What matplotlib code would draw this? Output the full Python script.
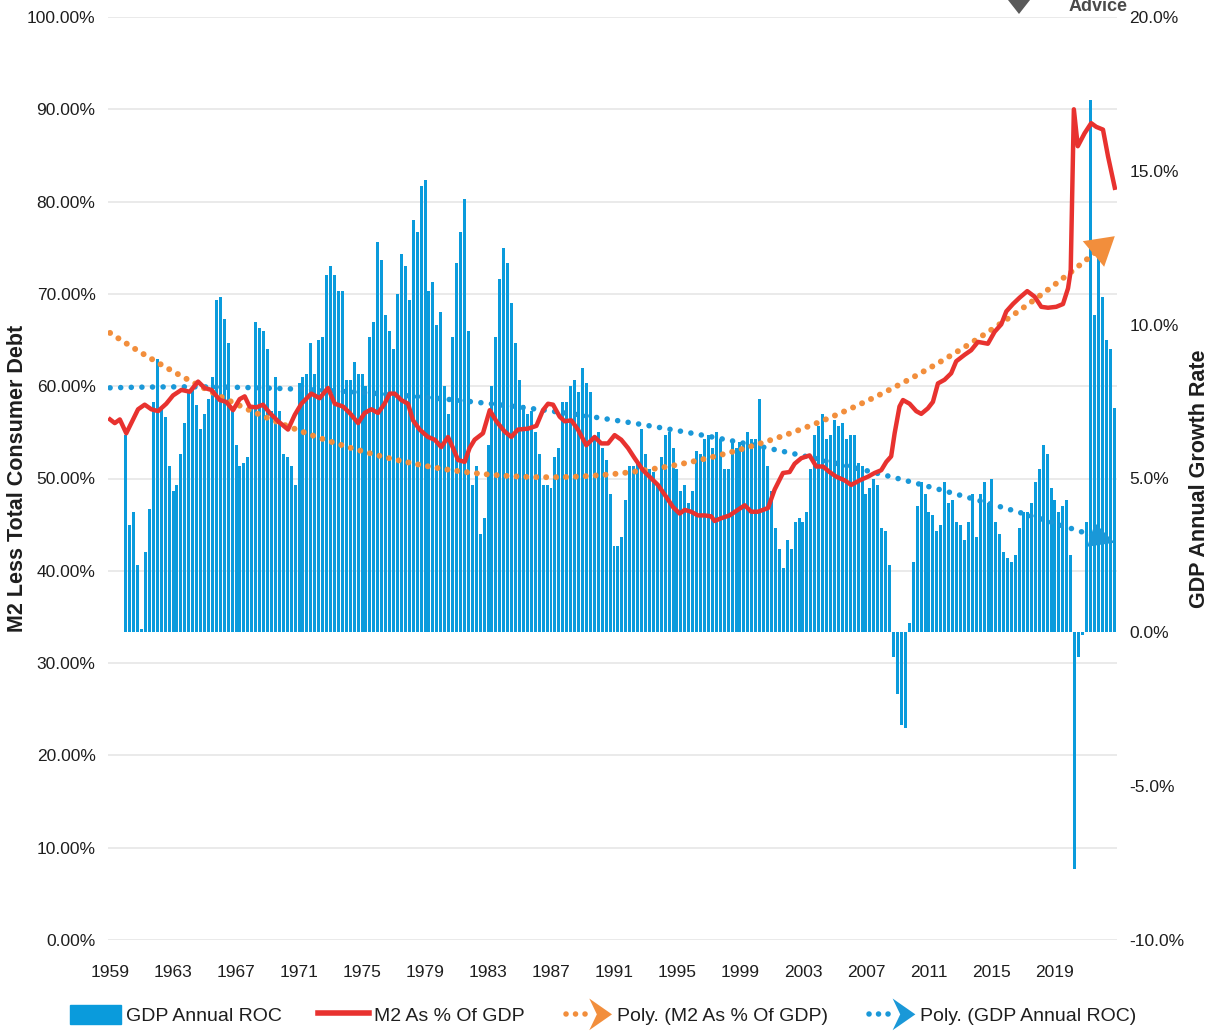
import numpy as np
import matplotlib
matplotlib.use("Agg")
import matplotlib.pyplot as plt
from matplotlib.lines import Line2D
from matplotlib.patches import Patch, Polygon
from matplotlib.legend_handler import HandlerBase
from matplotlib import font_manager

# --- DATA ---
# GDP annual rate of change, quarterly 1960Q1..2022Q4 (right axis, %)
gdp_roc = [
    6.4, 3.5, 3.9, 2.2,      # 1960
    0.1, 2.6, 4.0, 7.5,      # 1961
    8.9, 7.3, 7.0, 5.4,      # 1962
    4.6, 4.8, 5.8, 6.8,      # 1963
    7.8, 7.9, 7.4, 6.6,      # 1964
    7.1, 7.6, 8.3, 10.8,     # 1965
    10.9, 10.2, 9.4, 7.2,    # 1966
    6.1, 5.4, 5.5, 5.7,      # 1967
    7.4, 10.1, 9.9, 9.8,     # 1968
    9.2, 7.2, 8.3, 7.2,      # 1969
    5.8, 5.7, 5.4, 4.8,      # 1970
    8.1, 8.3, 8.4, 9.4,      # 1971
    8.4, 9.5, 9.6, 11.6,     # 1972
    11.9, 11.6, 11.1, 11.1,  # 1973
    8.2, 8.2, 8.8, 8.4,      # 1974
    8.4, 8.0, 9.6, 10.1,     # 1975
    12.7, 12.1, 10.3, 9.8,   # 1976
    9.2, 11.0, 12.3, 11.9,   # 1977
    10.8, 13.4, 13.0, 14.5,  # 1978
    14.7, 11.1, 11.4, 10.0,  # 1979
    10.4, 8.0, 7.1, 9.6,     # 1980
    12.0, 13.0, 14.1, 9.8,   # 1981
    4.8, 5.4, 3.2, 3.7,      # 1982
    6.1, 8.0, 9.6, 11.5,     # 1983
    12.5, 12.0, 10.7, 9.4,   # 1984
    8.2, 7.4, 7.1, 7.2,      # 1985
    6.5, 5.8, 4.8, 4.8,      # 1986
    4.7, 5.7, 6.0, 7.5,      # 1987
    7.5, 8.0, 8.2, 7.8,      # 1988
    8.6, 8.1, 7.8, 6.3,      # 1989
    6.5, 6.0, 5.6, 4.5,      # 1990
    2.8, 2.8, 3.1, 4.3,      # 1991
    5.4, 5.4, 5.5, 6.6,      # 1992
    5.8, 5.3, 5.2, 4.8,      # 1993
    5.7, 6.4, 6.5, 6.0,      # 1994
    5.3, 4.6, 4.8, 4.2,      # 1995
    4.6, 5.9, 5.8, 6.3,      # 1996
    6.4, 6.0, 6.5, 6.3,      # 1997
    5.3, 5.3, 6.3, 6.0,      # 1998
    6.2, 6.2, 6.5, 6.3,      # 1999
    6.3, 7.6, 6.1, 5.4,      # 2000
    4.6, 3.4, 2.7, 2.1,      # 2001
    3.0, 2.7, 3.6, 3.7,      # 2002
    3.6, 3.9, 5.3, 6.4,      # 2003
    6.7, 7.1, 6.3, 6.4,      # 2004
    6.9, 6.7, 6.8, 6.3,      # 2005
    6.4, 6.4, 5.5, 5.4,      # 2006
    4.5, 4.7, 5.0, 4.8,      # 2007
    3.4, 3.3, 2.2, -0.8,     # 2008
    -2.0, -3.0, -3.1, 0.3,   # 2009
    2.3, 4.1, 4.9, 4.5,      # 2010
    3.9, 3.8, 3.3, 3.5,      # 2011
    4.9, 4.2, 4.3, 3.6,      # 2012
    3.5, 3.0, 3.6, 4.5,      # 2013
    3.1, 4.5, 4.9, 4.2,      # 2014
    5.0, 3.6, 3.2, 2.6,      # 2015
    2.4, 2.3, 2.5, 3.4,      # 2016
    3.9, 3.9, 4.2, 4.9,      # 2017
    5.3, 6.1, 5.8, 4.7,      # 2018
    4.3, 3.9, 4.1, 4.3,      # 2019
    2.5, -7.7, -0.8, -0.1,   # 2020
    3.6, 17.3, 10.3, 12.2,   # 2021
    10.9, 9.5, 9.2, 7.3,     # 2022
]
gdp_start_year = 1960

# M2 less total consumer debt as % of GDP (left axis)
m2_years = [
    1959.00, 1959.30, 1959.62, 1960.03, 1960.35, 1960.78, 1961.20, 1961.62, 1962.05, 1962.57,
    1963.00, 1963.53, 1964.06, 1964.59, 1965.01, 1965.43, 1965.97, 1966.38, 1966.81, 1967.23,
    1967.55, 1967.86, 1968.29, 1968.71, 1969.14, 1969.67, 1970.30, 1970.73, 1971.15, 1971.78,
    1972.31, 1972.84, 1973.27, 1973.79, 1974.22, 1974.75, 1975.17, 1975.59, 1976.02, 1976.43,
    1976.76, 1977.07, 1977.49, 1977.92, 1978.24, 1978.66, 1979.19, 1979.62, 1980.03, 1980.46,
    1980.78, 1981.10, 1981.52, 1981.83, 1982.15, 1982.68, 1983.11, 1983.53, 1984.05, 1984.48,
    1984.90, 1985.54, 1986.07, 1986.49, 1986.81, 1987.13, 1987.55, 1987.87, 1988.29, 1988.71,
    1989.24, 1989.77, 1990.19, 1990.62, 1991.04, 1991.46, 1991.89, 1992.31, 1992.84, 1993.37,
    1993.79, 1994.32, 1994.75, 1995.17, 1995.49, 1995.90, 1996.33, 1996.76, 1997.17, 1997.39,
    1997.81, 1998.34, 1998.87, 1999.30, 1999.71, 2000.14, 2000.78, 2001.20, 2001.73, 2002.15,
    2002.47, 2002.89, 2003.42, 2003.84, 2004.27, 2004.69, 2005.11, 2005.65, 2006.06, 2006.60,
    2007.13, 2007.55, 2007.97, 2008.29, 2008.60, 2008.82, 2009.13, 2009.35, 2009.77, 2010.19,
    2010.51, 2010.93, 2011.25, 2011.57, 2011.99, 2012.41, 2012.73, 2013.26, 2013.68, 2014.11,
    2014.74, 2015.17, 2015.59, 2015.91, 2016.33, 2016.76, 2017.24, 2017.71, 2018.13, 2018.56,
    2019.08, 2019.51, 2019.83, 2020.00, 2020.20, 2020.45, 2020.88, 2021.30, 2021.62, 2022.05,
    2022.37, 2022.80,
]
m2_pct = [
    56.4, 56.0, 56.4, 54.9, 56.0, 57.5, 58.0, 57.5, 57.3, 58.1,
    59.0, 59.6, 59.4, 60.5, 59.8, 59.6, 58.5, 58.3, 57.4, 58.6,
    58.9, 57.8, 57.7, 58.0, 57.1, 56.2, 55.3, 56.9, 58.1, 59.2,
    58.7, 59.8, 58.1, 57.8, 57.1, 56.0, 57.1, 57.5, 57.1, 58.1,
    59.2, 59.2, 58.5, 58.1, 56.3, 55.3, 54.5, 54.2, 53.4, 54.5,
    53.3, 52.0, 51.8, 53.3, 54.2, 54.9, 57.4, 56.2, 55.1, 54.5,
    55.3, 55.4, 55.7, 57.4, 58.1, 58.0, 56.7, 56.2, 56.3, 55.3,
    53.6, 54.5, 53.8, 53.8, 54.7, 54.2, 53.3, 52.2, 50.9, 50.0,
    49.3, 48.0, 46.9, 46.2, 46.6, 46.4, 46.0, 46.0, 45.9, 45.4,
    45.7, 46.0, 46.6, 47.1, 46.4, 46.4, 46.8, 48.8, 50.6, 50.7,
    51.6, 52.2, 52.5, 51.3, 51.3, 50.7, 50.2, 49.8, 49.3, 49.8,
    50.2, 50.6, 50.9, 51.8, 52.4, 54.9, 57.8, 58.5, 58.1, 57.3,
    57.0, 57.6, 58.3, 60.3, 60.7, 61.4, 62.7, 63.4, 63.9, 64.8,
    64.6, 65.9, 66.7, 68.1, 68.9, 69.6, 70.3, 69.7, 68.6, 68.5,
    68.6, 68.9, 70.6, 72.5, 90.0, 86.0, 87.4, 88.5, 88.1, 87.8,
    84.9, 81.5,
]

left_ticks = [0, 10, 20, 30, 40, 50, 60, 70, 80, 90, 100]
right_ticks = [-10, -5, 0, 5, 10, 15, 20]
year_ticks = list(range(1959, 2020, 4))
legend_labels = ["GDP Annual ROC", "M2 As % Of GDP",
                 "Poly. (M2 As % Of GDP)", "Poly. (GDP Annual ROC)"]

# --- STYLE ---
BAR_BLUE = "#0A9BDC"
RED = "#E8322F"
ORANGE = "#F28E3C"
TREND_BLUE = "#1A98D8"
GRID = "#E6E6E6"
TXT = "#1E1E1E"

installed = {f.name for f in font_manager.fontManager.ttflist}
NARROW = "Liberation Sans Narrow" if "Liberation Sans Narrow" in installed else "Liberation Sans"
BOLD_FONT = "Liberation Sans" if "Liberation Sans" in installed else "DejaVu Sans"
plt.rcParams["font.family"] = [NARROW, "DejaVu Sans"]
TICK_FS = 14 if NARROW == "Liberation Sans Narrow" else 12.5
LEG_FS = 16 if NARROW == "Liberation Sans Narrow" else 14

W, H = 1214, 1034
fig = plt.figure(figsize=(W / 100, H / 100), dpi=100)
rect = [108 / W, (H - 940) / H, 1009 / W, 923 / H]
ax_l = fig.add_axes(rect)
ax_r = ax_l.twinx()
ax_l.set_zorder(3)
ax_l.patch.set_visible(False)
ax_r.set_zorder(2)

LLIM = (0, 100)
RLIM = (-10, 20)
XLIM = (1958.87, 2022.94)

# bars (right axis)
gdp = np.array(gdp_roc)
qx = gdp_start_year + np.arange(len(gdp)) / 4
ax_r.bar(qx, gdp, width=0.19, color=BAR_BLUE, zorder=2, linewidth=0)

# left-axis gridlines drawn behind the bars
for v in left_ticks:
    yr = RLIM[0] + (v - LLIM[0]) / (LLIM[1] - LLIM[0]) * (RLIM[1] - RLIM[0])
    ax_r.axhline(yr, color=GRID, lw=1.2, zorder=0)

def trend_with_arrow(ax, xs, ys, color, lw, pitch, head_len, head_w, z):
    ax.plot(xs[:-6], ys[:-6], color=color, lw=lw, linestyle=(0, (0.01, pitch)),
            dash_capstyle="round", zorder=z)
    ax.annotate("", xy=(xs[-1], ys[-1]), xytext=(xs[-8], ys[-8]),
                arrowprops=dict(arrowstyle=f"-|>,head_length={head_len},head_width={head_w}",
                                mutation_scale=20, color=color, lw=0,
                                shrinkA=0, shrinkB=0), zorder=z)

# polynomial trend of GDP (right axis)
tx = np.linspace(1959, 2022.8, 320)
c_gdp = np.polyfit(qx, gdp, 2)
trend_with_arrow(ax_r, tx, np.polyval(c_gdp, tx), TREND_BLUE, 4.0, 1.9, 0.9, 0.45, 3)

# polynomial trend of M2 (left axis)
c_m2 = np.polyfit(m2_years, m2_pct, 2)
trend_with_arrow(ax_l, tx, np.polyval(c_m2, tx), ORANGE, 4.3, 1.65, 1.0, 0.6, 4)

# M2 line
ax_l.plot(m2_years, m2_pct, color=RED, lw=3.2, zorder=5, solid_joinstyle="round")

# axes formatting
ax_l.set_xlim(*XLIM)
ax_l.set_ylim(*LLIM)
ax_r.set_ylim(*RLIM)
for a in (ax_l, ax_r):
    for s in a.spines.values():
        s.set_visible(False)
    a.tick_params(length=0)

ax_l.set_yticks(left_ticks)
ax_l.set_yticklabels([f"{v:.2f}%" for v in left_ticks], fontsize=TICK_FS, color=TXT)
ax_l.tick_params(axis="y", pad=9)
ax_r.set_yticks(right_ticks)
ax_r.set_yticklabels([f"{v:.1f}%" for v in right_ticks], fontsize=TICK_FS, color=TXT)
ax_r.tick_params(axis="y", pad=9)
ax_l.set_xticks(year_ticks)
ax_l.set_xticklabels([str(y) for y in year_ticks], fontsize=TICK_FS, color=TXT)
ax_l.tick_params(axis="x", pad=18)

ax_l.set_ylabel("M2 Less Total Consumer Debt", fontsize=15.5, fontweight="bold",
                family=BOLD_FONT, color=TXT)
ax_l.yaxis.set_label_coords(-0.079, 0.5)
ax_r.set_ylabel("GDP Annual Growth Rate", fontsize=15.5, fontweight="bold",
                family=BOLD_FONT, color=TXT, rotation=90)
ax_r.yaxis.set_label_coords(1.071, 0.5)

# legend with arrow-tipped dotted handles
class TrendHandler(HandlerBase):
    def __init__(self, color, lw):
        super().__init__()
        self.color = color
        self.lw = lw

    def create_artists(self, legend, orig_handle, xdescent, ydescent,
                       width, height, fontsize, trans):
        x0 = -xdescent
        y = height / 2 - ydescent
        dots = Line2D([x0 + 3, x0 + width * 0.5], [y, y], color=self.color, lw=self.lw,
                      linestyle=(0, (0.01, 1.7)), dash_capstyle="round", transform=trans)
        head = Polygon([[x0 + width * 0.55, y - height * 0.85], [x0 + width, y],
                        [x0 + width * 0.55, y + height * 0.85], [x0 + width * 0.7, y]],
                       closed=True, fc=self.color, ec="none", transform=trans)
        return [dots, head]

h_bar = Patch(color=BAR_BLUE)
h_red = Line2D([], [], color=RED, lw=4)
h_orange = Line2D([], [], color=ORANGE)
h_blue = Line2D([], [], color=TREND_BLUE)
fig.legend([h_bar, h_red, h_orange, h_blue], legend_labels,
           handler_map={h_orange: TrendHandler(ORANGE, 4.0),
                        h_blue: TrendHandler(TREND_BLUE, 4.0)},
           loc="center", bbox_to_anchor=(0.497, 1 - 1015 / H), ncol=4, frameon=False,
           fontsize=LEG_FS, handlelength=2.6, handleheight=1.1, handletextpad=0.25,
           columnspacing=1.9, labelcolor=TXT)

# logo fragment at the top
fig.text(1098 / W, 1 - 11 / H, "Advice", fontsize=13, fontweight="bold",
         family=BOLD_FONT, color="#4A4A4A", ha="center", va="baseline")
fig.patches.append(Polygon([[1008 / W, 1.0], [1030 / W, 1.0], [1019 / W, 1 - 14 / H]],
                           closed=True, transform=fig.transFigure, fc="#5A5A5A", ec="none"))

fig.savefig("out.png", dpi=100, facecolor="white")
